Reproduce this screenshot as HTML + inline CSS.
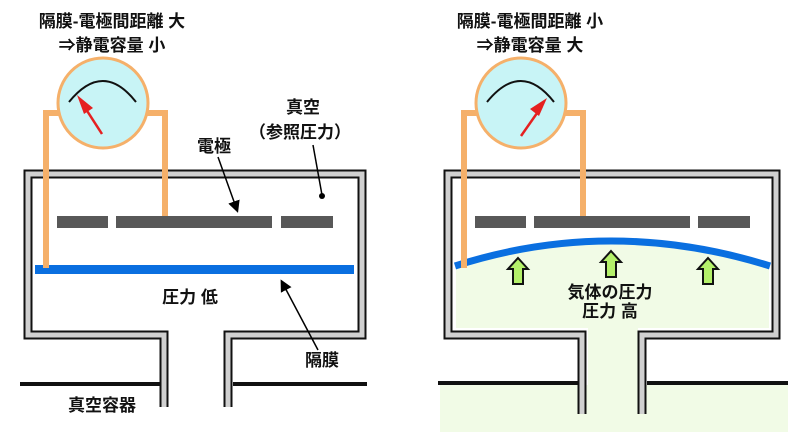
<!DOCTYPE html><html><head><meta charset="utf-8"><style>body{margin:0;background:#fff}svg{display:block}text{font-family:"Liberation Sans","Noto Sans CJK JP",sans-serif;font-weight:bold;fill:#111}</style></head><body>
<svg width="800" height="439" viewBox="0 0 800 439">
<defs>
<marker id="ah" markerWidth="8" markerHeight="8" refX="6" refY="4" orient="auto"><path d="M0,0L8,4L0,8z" fill="#000"/></marker>
<g id="garrow"><path d="M0,-14 L10,-3 L5,-3 L5,12 L-5,12 L-5,-3 L-10,-3z" fill="#b4f06a" stroke="#111" stroke-width="2"/></g>
</defs>
<path d="M440,385 L788,385 L788,432 L440,432z" fill="#f1fbe6"/>
<path d="M456,265 Q610,215 769,265 L769,328 L456,328z" fill="#f1fbe6"/>
<rect x="588" y="328" width="50" height="60" fill="#f1fbe6"/>
<g fill="none">
<path d="M164,407 V335 H28 V174 H362 V335 H228 V407" stroke="#111" stroke-width="9"/>
<path d="M164,407 V335 H28 V174 H362 V335 H228 V407" stroke="#d0d0d0" stroke-width="5"/>
<path d="M582,414 V335 H448 V174 H776 V335 H642 V414" stroke="#111" stroke-width="9"/>
<path d="M582,414 V335 H448 V174 H776 V335 H642 V414" stroke="#d0d0d0" stroke-width="5"/>
</g>
<g fill="#585858">
<rect x="57" y="216" width="51" height="12"/><rect x="116" y="216" width="156" height="12"/><rect x="281" y="216" width="52" height="12"/>
<rect x="475" y="216" width="51" height="12"/><rect x="534" y="216" width="156" height="12"/><rect x="698" y="216" width="52" height="12"/>
</g>
<rect x="35" y="265" width="319" height="9" fill="#0a6fe0"/>
<path d="M455,266 Q610,216 770,266" stroke="#0a6fe0" stroke-width="7" fill="none"/>
<g fill="none" stroke="#f5b06a" stroke-width="6">
<path d="M46,268 V113 H62"/><path d="M165,216 V113 H145"/>
<path d="M464,268 V113 H480"/><path d="M583,216 V113 H563"/>
</g>
<circle cx="103" cy="103" r="45" fill="#c8f4f6" stroke="#f5b06a" stroke-width="3"/>
<path d="M69,102 Q103,60 136,102" fill="none" stroke="#111" stroke-width="2"/>
<line x1="102" y1="134" x2="82" y2="103" stroke="#e52020" stroke-width="2.5"/><path d="M77,95 L84,114 L93,108z" fill="#e52020"/>
<circle cx="521" cy="103" r="45" fill="#c8f4f6" stroke="#f5b06a" stroke-width="3"/>
<path d="M487,102 Q521,60 554,102" fill="none" stroke="#111" stroke-width="2"/>
<line x1="521" y1="136" x2="542" y2="106" stroke="#e52020" stroke-width="2.5"/><path d="M547,98 L530,109 L539,116z" fill="#e52020"/>
<use href="#garrow" x="518" y="272"/><use href="#garrow" x="611" y="265"/><use href="#garrow" x="708" y="272"/>
<line x1="218" y1="157" x2="237" y2="210" stroke="#000" stroke-width="1.5" marker-end="url(#ah)"/>
<line x1="313" y1="145" x2="322" y2="195" stroke="#000" stroke-width="1.5"/><circle cx="322" cy="196" r="3" fill="#000"/>
<line x1="318" y1="350" x2="282" y2="282" stroke="#000" stroke-width="1.5" marker-end="url(#ah)"/>
<g stroke="#111" stroke-width="4">
<line x1="20" y1="384" x2="160" y2="384"/><line x1="233" y1="384" x2="367" y2="384"/>
<line x1="438" y1="383" x2="578" y2="383"/><line x1="647" y1="383" x2="788" y2="383"/>
</g>
<g font-size="17">
<text x="112" y="27" text-anchor="middle">隔膜-電極間距離 大</text>
<text x="112" y="51" text-anchor="middle">⇒静電容量 小</text>
<text x="530" y="27" text-anchor="middle">隔膜-電極間距離 小</text>
<text x="530" y="51" text-anchor="middle">⇒静電容量 大</text>
<text x="303" y="113" text-anchor="middle">真空</text>
<text x="300" y="138" text-anchor="middle">（参照圧力）</text>
<text x="214" y="152" text-anchor="middle">電極</text>
<text x="190" y="303" text-anchor="middle">圧力 低</text>
<text x="322" y="366" text-anchor="middle">隔膜</text>
<text x="102" y="411" text-anchor="middle">真空容器</text>
<text x="610" y="298" text-anchor="middle">気体の圧力</text>
<text x="610" y="317" text-anchor="middle">圧力 高</text>
</g>
</svg></body></html>
